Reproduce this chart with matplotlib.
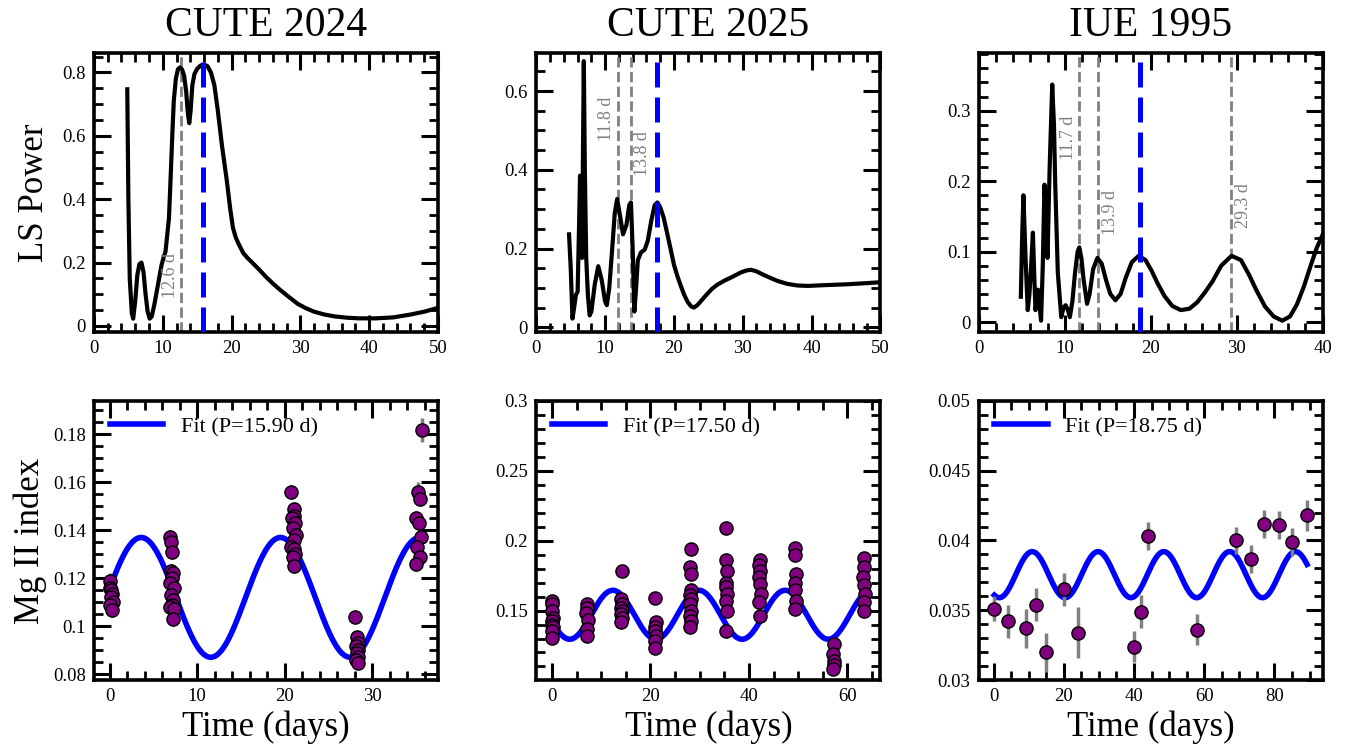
import numpy as np
import matplotlib
matplotlib.use("Agg")
import matplotlib.pyplot as plt
from matplotlib.ticker import AutoMinorLocator, FormatStrFormatter

plt.rcParams['font.family'] = ['Liberation Serif', 'DejaVu Serif']
plt.rcParams['xtick.direction'] = 'in'
plt.rcParams['ytick.direction'] = 'in'

# ---- periodograms (period in days, LS power) ----
per_2024 = [4.84, 5.0, 5.2, 5.5, 5.7, 6.0, 6.3, 6.6, 6.9, 7.2, 7.5, 7.8, 8.1, 8.4, 8.8,
            9.3, 9.8, 10.1, 10.4, 10.9, 11.2, 11.4, 11.6, 11.9, 12.2, 12.5, 12.8, 13.1,
            13.4, 13.65, 13.85, 14.05, 14.3, 14.6, 15.0, 15.5, 16.0, 16.5, 17.0, 17.5,
            18.0, 18.6, 19.3, 19.8, 20.2, 20.6, 21.0, 21.7, 22.3, 23.0, 24.0, 25.0, 26.0,
            27.0, 28.3, 29.6, 30.8, 32.0, 33.5, 35.0, 36.8, 38.5, 41.0, 43.5, 46.0, 48.0, 50.0]
pow_2024 = [0.747, 0.40, 0.15, 0.04, 0.023, 0.08, 0.16, 0.195, 0.20, 0.17, 0.10, 0.045,
            0.023, 0.03, 0.07, 0.13, 0.19, 0.215, 0.235, 0.34, 0.50, 0.61, 0.71, 0.78,
            0.81, 0.816, 0.81, 0.79, 0.74, 0.67, 0.64, 0.68, 0.76, 0.795, 0.812, 0.822,
            0.825, 0.82, 0.80, 0.76, 0.68, 0.57, 0.46, 0.37, 0.31, 0.28, 0.26, 0.23, 0.215,
            0.20, 0.178, 0.155, 0.134, 0.115, 0.092, 0.07, 0.056, 0.045, 0.036, 0.03, 0.026,
            0.024, 0.024, 0.027, 0.036, 0.045, 0.057]

per_2025 = [4.75, 5.0, 5.25, 5.5, 5.75, 6.0, 6.2, 6.35, 6.5, 6.65, 6.78, 6.9, 7.05, 7.25,
            7.5, 7.75, 8.0, 8.5, 9.0, 9.5, 10.0, 10.25, 10.6, 11.0, 11.4, 11.75, 12.1, 12.6,
            13.1, 13.5, 13.75, 14.0, 14.25, 14.5, 14.75, 15.2, 15.75, 16.2, 16.7, 17.2, 17.6,
            18.0, 18.5, 19.0, 19.5, 20.0, 20.5, 21.0, 21.5, 22.0, 22.5, 22.9, 23.4, 24.0,
            24.7, 25.5, 26.3, 27.3, 28.5, 29.7, 30.5, 31.2, 32.0, 32.8, 33.8, 35.0, 36.5,
            38.0, 39.5, 42.0, 45.0, 48.0, 50.5]
pow_2025 = [0.236, 0.15, 0.022, 0.05, 0.082, 0.09, 0.25, 0.385, 0.25, 0.176, 0.45, 0.676,
            0.40, 0.176, 0.08, 0.03, 0.04, 0.11, 0.155, 0.12, 0.065, 0.056, 0.10, 0.193, 0.29,
            0.326, 0.29, 0.236, 0.26, 0.31, 0.317, 0.20, 0.04, 0.10, 0.17, 0.19, 0.197, 0.22,
            0.27, 0.31, 0.317, 0.305, 0.279, 0.24, 0.20, 0.159, 0.13, 0.105, 0.082, 0.064,
            0.053, 0.05, 0.056, 0.068, 0.082, 0.097, 0.108, 0.118, 0.128, 0.139, 0.144,
            0.146, 0.142, 0.135, 0.127, 0.118, 0.110, 0.106, 0.105, 0.107, 0.109, 0.112, 0.115]

per_1995 = [4.9, 5.05, 5.2, 5.45, 5.7, 5.9, 6.1, 6.3, 6.45, 6.6, 6.75, 6.9, 7.1, 7.25, 7.45,
            7.65, 7.8, 8.0, 8.25, 8.55, 8.75, 8.9, 9.2, 9.6, 9.85, 10.1, 10.35, 10.6, 10.9,
            11.2, 11.5, 11.7, 11.95, 12.2, 12.6, 12.9, 13.3, 13.8, 14.3, 14.8, 15.3, 15.9,
            16.5, 17.1, 17.8, 18.6, 19.4, 20.1, 20.8, 21.6, 22.5, 23.5, 24.5, 25.4, 26.3,
            27.2, 28.2, 29.4, 30.5, 31.4, 32.3, 33.3, 34.3, 35.3, 36.2, 37.0, 37.8, 38.6,
            39.3, 40.1]
pow_1995 = [0.036, 0.12, 0.18, 0.09, 0.017, 0.04, 0.08, 0.127, 0.07, 0.017, 0.03, 0.046,
            0.02, 0.002, 0.08, 0.195, 0.15, 0.091, 0.22, 0.337, 0.28, 0.195, 0.07, 0.007,
            0.02, 0.024, 0.018, 0.007, 0.03, 0.07, 0.10, 0.106, 0.09, 0.06, 0.026, 0.04,
            0.075, 0.091, 0.083, 0.06, 0.04, 0.031, 0.04, 0.063, 0.085, 0.094, 0.088, 0.073,
            0.055, 0.037, 0.023, 0.017, 0.019, 0.028, 0.042, 0.058, 0.080, 0.094, 0.088,
            0.068, 0.045, 0.022, 0.008, 0.002, 0.008, 0.025, 0.05, 0.08, 0.105, 0.127]

best_period = [15.90, 17.50, 18.75]
other_peaks = [[12.6], [11.8, 13.8], [11.7, 13.9, 29.3]]

# ---- Mg II index time series ----
t_2024 = [0.0, 0.1, 0.2, 0.3, 0.2, 0.4, 0.1, 0.3,
          6.9, 7.0, 7.1, 7.0, 7.2, 7.1, 6.9, 7.3, 7.0, 7.2, 7.1, 6.9, 7.3, 7.2,
          20.7, 21.0, 21.1, 20.8, 21.2, 20.9, 21.3, 21.0, 20.7, 21.1, 21.2, 20.9, 21.0,
          28.0, 28.2, 28.3, 28.1, 28.4, 28.2, 28.3, 28.1, 28.4,
          35.7, 35.2, 35.4, 35.0, 35.3, 35.5, 35.1, 35.4, 35.0]
m_2024 = [0.119, 0.116, 0.115, 0.1135, 0.112, 0.110, 0.1087, 0.1066,
          0.137, 0.135, 0.131, 0.123, 0.122, 0.120, 0.118, 0.116, 0.113, 0.111, 0.109, 0.108, 0.107, 0.103,
          0.156, 0.149, 0.146, 0.145, 0.143, 0.141, 0.138, 0.136, 0.133, 0.132, 0.130, 0.129, 0.125,
          0.104, 0.0955, 0.093, 0.0915, 0.090, 0.0886, 0.087, 0.0858, 0.0844,
          0.182, 0.156, 0.153, 0.145, 0.143, 0.137, 0.133, 0.129, 0.126]
e_2024 = [0.003] * 8 + [0.003] * 14 + [0.003] * 13 + [0.002] * 9 + [0.005, 0.004] + [0.003] * 7

t_2025 = [0.0, 0.1, 0.0, 0.2, 0.1, 0.0, 0.2, 0.1, 0.0,
          7.1, 7.2, 7.0, 7.3, 7.1, 7.2,
          14.2, 14.0, 14.3, 14.1, 14.2, 14.0, 14.3, 14.1,
          21.0, 21.1, 20.9, 21.0, 21.2, 21.0, 20.9,
          28.2, 28.1, 28.3, 28.2, 28.0, 28.3, 28.1, 28.2, 28.0, 28.3, 28.1,
          35.4, 35.3, 35.5, 35.3, 35.4, 35.6, 35.3, 35.5, 35.4,
          42.2, 42.1, 42.3, 42.0, 42.2, 42.4, 42.1, 42.2,
          49.4, 49.3, 49.5, 49.4, 49.3, 49.5, 49.4,
          57.2, 57.1, 57.3, 57.2, 57.1,
          63.3, 63.4, 63.2, 63.3, 63.5, 63.3, 63.4]
m_2025 = [0.157, 0.155, 0.150, 0.145, 0.1427, 0.140, 0.138, 0.1355, 0.1307,
          0.155, 0.152, 0.148, 0.143, 0.137, 0.132,
          0.178, 0.158, 0.155, 0.152, 0.150, 0.1475, 0.145, 0.1415,
          0.159, 0.1415, 0.138, 0.1355, 0.132, 0.128, 0.1235,
          0.194, 0.181, 0.1765, 0.1645, 0.161, 0.158, 0.155, 0.150, 0.1463, 0.1427, 0.138,
          0.209, 0.186, 0.178, 0.170, 0.167, 0.162, 0.157, 0.150, 0.1355,
          0.186, 0.1825, 0.178, 0.174, 0.169, 0.162, 0.156, 0.146,
          0.195, 0.190, 0.1765, 0.170, 0.1645, 0.157, 0.151,
          0.126, 0.1186, 0.114, 0.111, 0.108,
          0.1875, 0.181, 0.174, 0.168, 0.162, 0.156, 0.150]
e_2025 = [0.003] * len(m_2025)

t_1995 = [0.2, 4.1, 9.1, 12.2, 15.0, 20.1, 24.1, 40.0, 42.0, 44.1, 57.9, 69.0, 73.3, 77.1,
          81.2, 85.1, 89.3]
m_1995 = [0.0351, 0.0342, 0.0337, 0.0354, 0.0320, 0.0365, 0.0334, 0.0324, 0.0349, 0.0403,
          0.0336, 0.0400, 0.0387, 0.0412, 0.0411, 0.0399, 0.0418]
e_1995 = [0.0009, 0.0012, 0.0014, 0.0012, 0.0014, 0.0012, 0.0018, 0.0011, 0.0012, 0.0010,
          0.0011, 0.0010, 0.0010, 0.0010, 0.0010, 0.0010, 0.0011]

# sinusoid fit parameters: mean, amplitude, reference epoch
fit_mean = [0.112, 0.147, 0.03755]
fit_amp = [0.025, 0.0175, 0.00165]
fit_t0 = [-0.375, 7.975, 6.3]

titles = ["CUTE 2024", "CUTE 2025", "IUE 1995"]
periodograms = [(per_2024, pow_2024), (per_2025, pow_2025), (per_1995, pow_1995)]
series = [(t_2024, m_2024, e_2024), (t_2025, m_2025, e_2025), (t_1995, m_1995, e_1995)]

top_xlim = [(0, 50), (0, 50), (0, 40)]
top_ylim = [(-0.019, 0.862), (-0.012, 0.697), (-0.014, 0.382)]
top_yticks = [[0, 0.2, 0.4, 0.6, 0.8], [0, 0.2, 0.4, 0.6], [0, 0.1, 0.2, 0.3]]
bot_ylim = [(0.0775, 0.194), (0.1003, 0.3), (0.03, 0.05)]
bot_yticks = [[0.08, 0.1, 0.12, 0.14, 0.16, 0.18], [0.15, 0.2, 0.25, 0.3],
              [0.03, 0.035, 0.04, 0.045, 0.05]]
# (x, y) for rotated period labels
label_pos = [[(11.1, 0.16)], [(10.25, 0.53), (15.5, 0.44)],
             [(10.4, 0.262), (15.3, 0.156), (30.8, 0.166)]]

fig, axes = plt.subplots(2, 3, figsize=(13.58, 7.55), dpi=100)
fig.subplots_adjust(left=0.0692, right=0.974, top=0.93, bottom=0.0993,
                    wspace=0.286, hspace=0.247)


def style(ax):
    ax.tick_params(which='both', top=True, right=True, labelsize=13.5, pad=6)
    ax.tick_params(which='major', length=12, width=2.2)
    ax.tick_params(which='minor', length=6.5, width=2.0)
    ax.xaxis.set_minor_locator(AutoMinorLocator())
    ax.yaxis.set_minor_locator(AutoMinorLocator())
    ax.yaxis.set_major_formatter(FormatStrFormatter('%g'))
    for s in ax.spines.values():
        s.set_linewidth(2.6)


for i in range(3):
    ax = axes[0, i]
    per, pw = periodograms[i]
    ax.plot(per, pw, color='black', lw=3, zorder=3, solid_joinstyle='round')
    for p in other_peaks[i]:
        ax.axvline(p, color='gray', ls='--', lw=2, zorder=2)
    for p, (lx, ly) in zip(other_peaks[i], label_pos[i]):
        ax.text(lx, ly, f"{p:.1f} d", rotation=90, color='gray', fontsize=13,
                ha='center', va='center')
    ax.axvline(best_period[i], color='blue', ls=(0, (5, 2)), lw=3.6, zorder=4)
    ax.set_xlim(*top_xlim[i])
    ax.set_ylim(*top_ylim[i])
    ax.set_yticks(top_yticks[i])
    ax.set_title(titles[i], fontsize=30, pad=12)
    style(ax)

    ax = axes[1, i]
    t, m, e = series[i]
    tf = np.linspace(min(t), max(t), 800)
    model = fit_mean[i] + fit_amp[i] * np.sin(2 * np.pi * (tf - fit_t0[i]) / best_period[i])
    ax.plot(tf, model, color='blue', lw=4, zorder=2,
            label=f"Fit (P={best_period[i]:.2f} d)")
    ax.errorbar(t, m, yerr=e, fmt='o', ms=9.5, mfc='purple', mec='black', mew=1.0,
                ecolor='gray', elinewidth=2.5, capsize=0, zorder=3)
    ax.set_yticks(bot_yticks[i])
    ax.set_ylim(*bot_ylim[i])
    ax.set_xlabel("Time (days)", fontsize=25)
    ax.legend(loc='upper left', frameon=False, fontsize=16, handlelength=2.4,
              borderaxespad=0.3)
    style(ax)

axes[0, 0].set_ylabel("LS Power", fontsize=25, labelpad=8)
axes[1, 0].set_ylabel("Mg II index", fontsize=25, labelpad=4)

fig.savefig("out.png", dpi=100)
